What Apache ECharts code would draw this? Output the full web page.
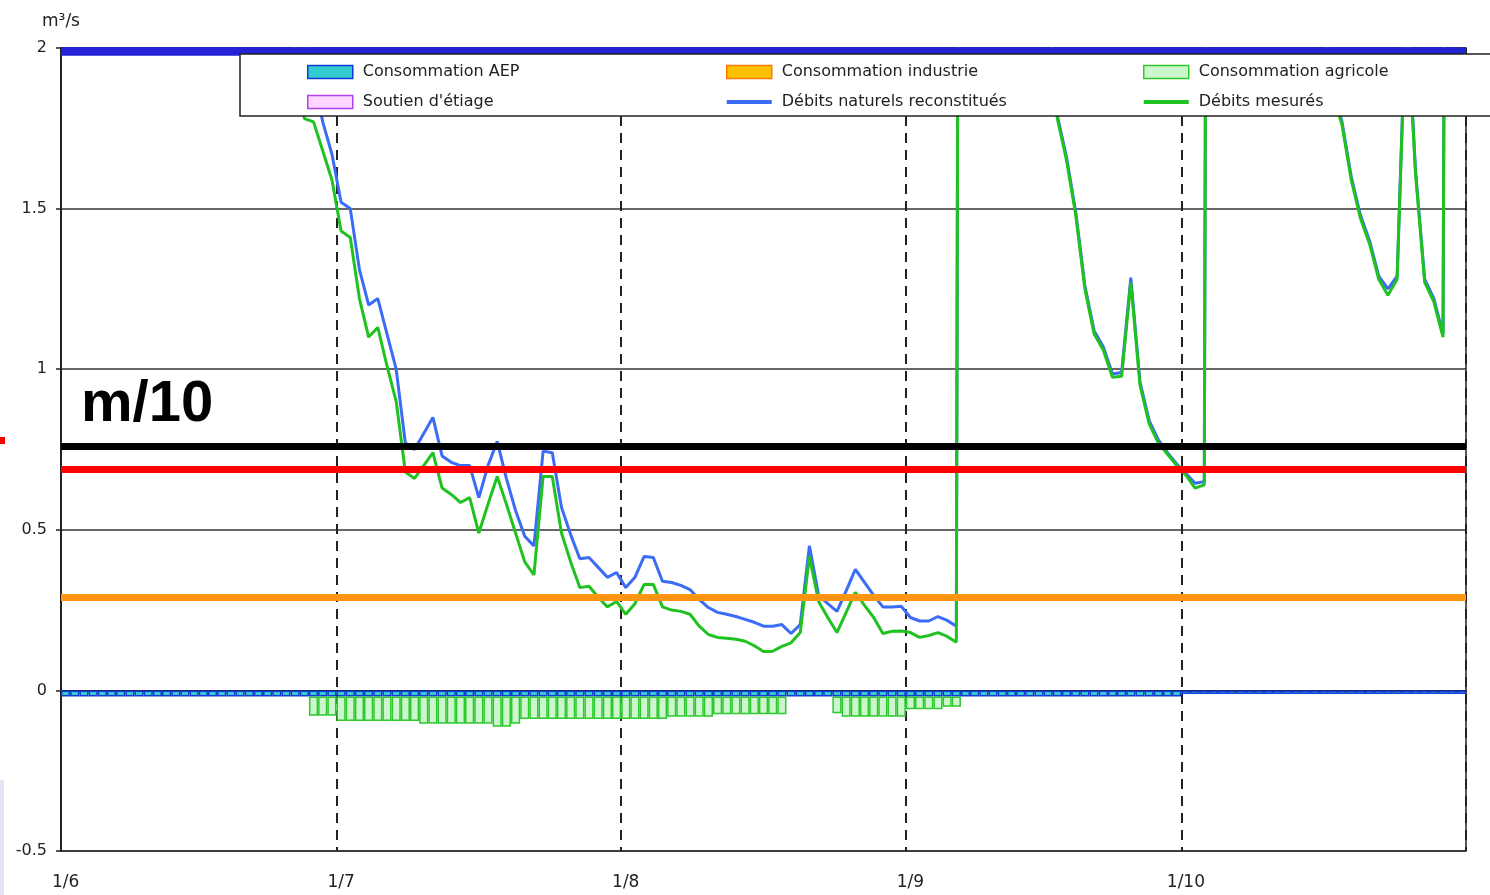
<!DOCTYPE html>
<html><head><meta charset="utf-8">
<script src="https://cdn.jsdelivr.net/npm/echarts@6/dist/echarts.min.js"></script>
<style>html,body{margin:0;padding:0;background:#fff;}#c{width:1490px;height:895px;}</style>
</head><body><div id="c"></div>
<script>
// ---- tick labels / categories (daily, 1 June - 31 October) ----
const monthNumbers = ['6', '7', '8', '9', '10'];
const monthLengths = [30, 31, 31, 30, 31];
const categories = [];
monthNumbers.forEach((m, k) => { for (let d = 1; d <= monthLengths[k]; d++) categories.push(d + '/' + m); });

const seriesNames = ['Consommation AEP', 'Consommation industrie', 'Consommation agricole',
  "Soutien d'étiage", 'Débits naturels reconstitués', 'Débits mesurés'];

// ---- series values (m3/s), one per day ----
const debitsMesures = [
  // June
  4.2, 4.0, 3.9, 3.7, 3.6, 3.5, 3.8, 4.1, 3.9, 3.6,
  3.4, 3.2, 3.1, 3.0, 2.9, 2.8, 2.8, 2.7, 2.6, 2.6,
  2.5, 2.4, 2.3, 2.2, 2.1, 2.0, 1.78, 1.77, 1.68, 1.59,
  // July
  1.43, 1.41, 1.22, 1.10, 1.13, 1.01, 0.90, 0.68, 0.66, 0.70,
  0.74, 0.63, 0.61, 0.585, 0.60, 0.49, 0.58, 0.666, 0.58, 0.49,
  0.40, 0.36, 0.666, 0.666, 0.49, 0.40, 0.32, 0.324, 0.29, 0.26,
  0.277,
  // August
  0.237, 0.27, 0.33, 0.33, 0.26, 0.25, 0.246, 0.237, 0.20, 0.174,
  0.165, 0.162, 0.159, 0.153, 0.139, 0.121, 0.122, 0.137, 0.148, 0.18,
  0.417, 0.277, 0.227, 0.18, 0.243, 0.305, 0.265, 0.227, 0.177, 0.184,
  0.185,
  // September
  0.18, 0.165, 0.171, 0.18, 0.168, 0.15, 12.0, 9.5, 7.2, 5.6,
  4.5, 3.8, 3.2, 2.7, 2.4, 2.15, 1.78, 1.65, 1.48, 1.25,
  1.11, 1.06, 0.975, 0.978, 1.27, 0.95, 0.83, 0.77, 0.735, 0.70,
  // October
  0.67, 0.63, 0.64, 10.5, 8.0, 6.2, 5.0, 4.2, 3.6, 3.2,
  2.9, 2.7, 2.5, 2.35, 2.2, 2.05, 1.86, 1.76, 1.59, 1.47,
  1.39, 1.28, 1.23, 1.28, 2.15, 1.61, 1.27, 1.21, 1.10, 9.0,
  6.5
];

const debitsNaturels = [
  // June
  4.25, 4.05, 3.95, 3.75, 3.65, 3.55, 3.85, 4.15, 3.95, 3.65,
  3.45, 3.25, 3.15, 3.05, 2.95, 2.85, 2.85, 2.75, 2.65, 2.65,
  2.55, 2.45, 2.4, 2.3, 2.2, 2.1, 2.05, 1.92, 1.77, 1.67,
  // July
  1.52, 1.50, 1.31, 1.20, 1.22, 1.11, 1.0, 0.77, 0.75, 0.80,
  0.85, 0.73, 0.71, 0.70, 0.70, 0.60, 0.70, 0.775, 0.66, 0.56,
  0.48, 0.45, 0.745, 0.74, 0.57, 0.485, 0.41, 0.414, 0.383, 0.352,
  0.367,
  // August
  0.32, 0.352, 0.417, 0.414, 0.34, 0.336, 0.327, 0.314, 0.283, 0.258,
  0.243, 0.237, 0.23, 0.221, 0.212, 0.2, 0.2, 0.205, 0.177, 0.205,
  0.45, 0.296, 0.27, 0.246, 0.31, 0.377, 0.336, 0.296, 0.26, 0.26,
  0.262,
  // September
  0.227, 0.216, 0.216, 0.23, 0.218, 0.2, 12.1, 9.6, 7.3, 5.7,
  4.6, 3.85, 3.25, 2.75, 2.45, 2.2, 1.79, 1.66, 1.49, 1.26,
  1.12, 1.07, 0.985, 0.99, 1.285, 0.96, 0.84, 0.78, 0.74, 0.705,
  // October
  0.675, 0.645, 0.65, 10.6, 8.1, 6.3, 5.1, 4.3, 3.65, 3.25,
  2.95, 2.75, 2.55, 2.4, 2.25, 2.1, 1.87, 1.77, 1.60, 1.48,
  1.40, 1.29, 1.25, 1.29, 2.16, 1.62, 1.28, 1.22, 1.11, 9.1,
  6.6
];

const consoAEP = [
  // June
  -0.019, -0.019, -0.019, -0.019, -0.019, -0.019, -0.019, -0.019, -0.019, -0.019,
  -0.019, -0.019, -0.019, -0.019, -0.019, -0.019, -0.019, -0.019, -0.019, -0.019,
  -0.019, -0.019, -0.019, -0.019, -0.019, -0.019, -0.019, -0.019, -0.019, -0.019,
  // July
  -0.019, -0.019, -0.019, -0.019, -0.019, -0.019, -0.019, -0.019, -0.019, -0.019,
  -0.019, -0.019, -0.019, -0.019, -0.019, -0.019, -0.019, -0.019, -0.019, -0.019,
  -0.019, -0.019, -0.019, -0.019, -0.019, -0.019, -0.019, -0.019, -0.019, -0.019,
  -0.019,
  // August
  -0.019, -0.019, -0.019, -0.019, -0.019, -0.019, -0.019, -0.019, -0.019, -0.019,
  -0.019, -0.019, -0.019, -0.019, -0.019, -0.019, -0.019, -0.019, -0.019, -0.019,
  -0.019, -0.019, -0.019, -0.019, -0.019, -0.019, -0.019, -0.019, -0.019, -0.019,
  -0.019,
  // September
  -0.019, -0.019, -0.019, -0.019, -0.019, -0.019, -0.019, -0.019, -0.019, -0.019,
  -0.019, -0.019, -0.019, -0.019, -0.019, -0.019, -0.019, -0.019, -0.019, -0.019,
  -0.019, -0.019, -0.019, -0.019, -0.019, -0.019, -0.019, -0.019, -0.019, -0.019,
  // October
  -0.011, -0.011, -0.011, -0.011, -0.011, -0.011, -0.011, -0.011, -0.011, -0.011,
  -0.011, -0.011, -0.011, -0.011, -0.011, -0.011, -0.011, -0.011, -0.011, -0.011,
  -0.011, -0.011, -0.011, -0.011, -0.011, -0.011, -0.011, -0.011, -0.011, -0.011,
  -0.011
];

const consoAgricole = [
  // June
  null, null, null, null, null, null, null, null, null, null,
  null, null, null, null, null, null, null, null, null, null,
  null, null, null, null, null, null, null, -0.060, -0.060, -0.060,
  // July
  -0.076, -0.076, -0.076, -0.076, -0.076, -0.076, -0.076, -0.076, -0.076, -0.085,
  -0.085, -0.085, -0.085, -0.085, -0.085, -0.085, -0.085, -0.094, -0.094, -0.085,
  -0.07, -0.07, -0.07, -0.07, -0.07, -0.07, -0.07, -0.07, -0.07, -0.07,
  -0.07,
  // August
  -0.07, -0.07, -0.07, -0.07, -0.07, -0.063, -0.063, -0.063, -0.063, -0.063,
  -0.055, -0.055, -0.055, -0.055, -0.055, -0.055, -0.055, -0.055, null, null,
  null, null, null, -0.052, -0.063, -0.063, -0.063, -0.063, -0.063, -0.063,
  -0.063,
  // September
  -0.04, -0.04, -0.04, -0.04, -0.032, -0.032, null, null, null, null,
  null, null, null, null, null, null, null, null, null, null,
  null, null, null, null, null, null, null, null, null, null,
  // October
  null, null, null, null, null, null, null, null, null, null,
  null, null, null, null, null, null, null, null, null, null,
  null, null, null, null, null, null, null, null, null, null,
  null
];
const consoIndustrie = [];
const soutienEtiage = [];

// overlay reference levels drawn on top of the chart
const refLevels = [1.994, 0.763, 0.692, 0.294];
const refColors = ['#2222d6', '#000000', '#ff0000', '#ff9410'];
const refWidths = [8.5, 7, 7, 7];

const FONT = 'DejaVu Sans';
const monthStart = (i, v) => v.indexOf('1/') === 0;

const colAEP = { color: '#33cccc', borderColor: '#1238d8', borderWidth: 1.5 };
const colInd = { color: '#ffc000', borderColor: '#ff7a00', borderWidth: 1.5 };
const colAgr = { color: '#ccf7cc', borderColor: '#2ec82e', borderWidth: 1.5 };
const colSou = { color: '#ffd6ff', borderColor: '#b040f0', borderWidth: 1.5 };
const blueLine = '#3a6cf5';
const greenLine = '#1fc21f';
const lineIcon = 'path://M0,0L45,0L45,4L0,4Z';

const legendCommon = {
  orient: 'vertical', top: 64, itemGap: 14, itemWidth: 45, itemHeight: 13,
  selectedMode: false, z: 60, symbolKeepAspect: true, padding: 0,
  textStyle: { fontSize: 16, color: '#222', fontFamily: FONT, padding: [0, 0, 0, 5] }
};

const chart = echarts.init(document.getElementById('c'));
chart.setOption({
  animation: false,
  backgroundColor: '#fff',
  grid: { left: 61, right: 24, top: 48, bottom: 44, show: true, borderColor: '#222', borderWidth: 1.5 },
  xAxis: {
    type: 'category', data: categories, boundaryGap: true,
    axisLine: { lineStyle: { color: '#222', width: 2 } },
    axisTick: { show: false },
    axisLabel: { interval: monthStart, margin: 23, fontSize: 17, color: '#222', fontFamily: FONT },
    splitLine: { show: true, interval: (i, v) => i > 0 && v.indexOf('1/') === 0,
      lineStyle: { color: '#222', type: [10, 7], width: 2 } }
  },
  yAxis: {
    type: 'value', min: -0.5, max: 2, interval: 0.5,
    name: 'm³/s', nameLocation: 'end', nameGap: 18,
    nameTextStyle: { fontSize: 17, color: '#222', fontFamily: FONT, align: 'center' },
    axisLine: { show: true, lineStyle: { color: '#222', width: 2 } },
    axisTick: { show: true, length: 5, lineStyle: { color: '#222', width: 1.5 } },
    axisLabel: { margin: 14, fontSize: 16, color: '#222', fontFamily: FONT },
    splitLine: { show: true, lineStyle: { color: '#333', width: 1.5 } }
  },
  legend: [
    Object.assign({}, legendCommon, { left: 307, data: [
      { name: seriesNames[0], icon: 'rect', itemStyle: colAEP },
      { name: seriesNames[3], icon: 'rect', itemStyle: colSou } ] }),
    Object.assign({}, legendCommon, { left: 726, data: [
      { name: seriesNames[1], icon: 'rect', itemStyle: colInd },
      { name: seriesNames[4], icon: lineIcon, itemStyle: { color: blueLine, borderWidth: 0 } } ] }),
    Object.assign({}, legendCommon, { left: 1143, data: [
      { name: seriesNames[2], icon: 'rect', itemStyle: colAgr },
      { name: seriesNames[5], icon: lineIcon, itemStyle: { color: greenLine, borderWidth: 0 } } ] })
  ],
  series: [
    { name: seriesNames[0], type: 'bar', stack: 'c', data: consoAEP, barCategoryGap: '0%', itemStyle: colAEP, silent: true },
    { name: seriesNames[1], type: 'bar', stack: 'c', data: consoIndustrie, itemStyle: colInd, silent: true },
    { name: seriesNames[2], type: 'bar', stack: 'c', data: consoAgricole, barCategoryGap: '0%', itemStyle: colAgr, silent: true },
    { name: seriesNames[3], type: 'bar', stack: 'c', data: soutienEtiage, itemStyle: colSou, silent: true },
    { name: seriesNames[4], type: 'line', data: debitsNaturels, symbol: 'none', clip: true,
      itemStyle: { color: blueLine }, lineStyle: { color: blueLine, width: 3 }, silent: true },
    { name: seriesNames[5], type: 'line', data: debitsMesures, symbol: 'none', clip: true,
      itemStyle: { color: greenLine }, lineStyle: { color: greenLine, width: 3 }, silent: true,
      markLine: {
        silent: true, symbol: ['none', 'none'], label: { show: false }, z: 5,
        data: refLevels.map((v, k) => ({ yAxis: v, lineStyle: { color: refColors[k], width: refWidths[k], type: 'solid' } }))
      } }
  ],
  graphic: [
    // white mask above the plot top so lines clipped at the top edge don't peek out
    { type: 'rect', z: 4, shape: { x: 63, y: 38, width: 1402, height: 9 }, style: { fill: '#fff' } },
    { type: 'rect', z: 50, shape: { x: 240, y: 54, width: 1260, height: 62 },
      style: { fill: '#fff', stroke: '#222', lineWidth: 1.5 } },
    { type: 'text', z: 55, x: 81, y: 405,
      style: { text: 'm/10', font: 'bold 58px "Liberation Sans", Arial, sans-serif', fill: '#000',
        align: 'left', verticalAlign: 'middle' } },
    { type: 'rect', z: 55, shape: { x: 0, y: 437, width: 5, height: 7 }, style: { fill: '#ff0000' } },
    { type: 'rect', z: 55, shape: { x: 0, y: 780, width: 4, height: 115 }, style: { fill: '#e2e5f3' } }
  ]
});
</script></body></html>
